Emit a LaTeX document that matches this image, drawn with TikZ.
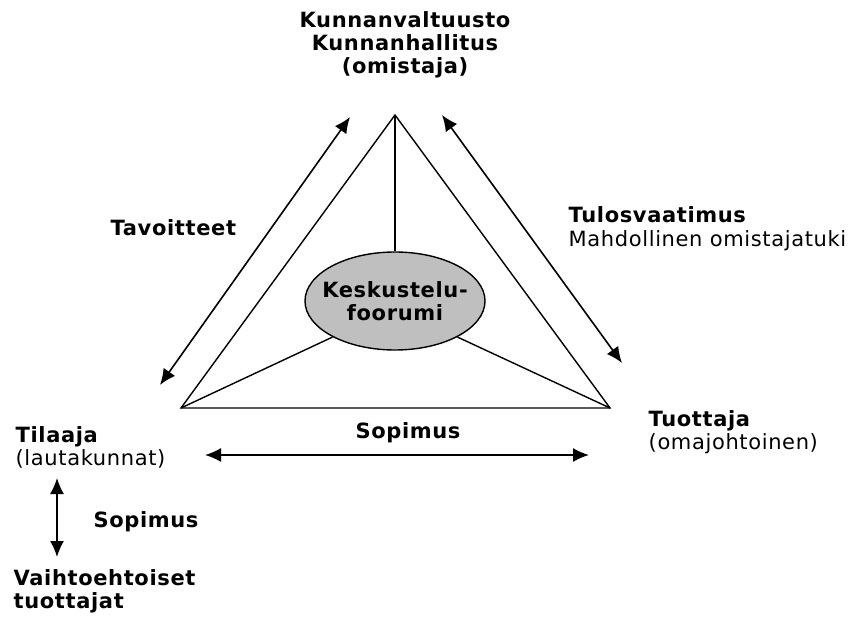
\documentclass[tikz,border=0pt]{standalone}
\usepackage{fontspec}
\setmainfont{DejaVu Sans}[LetterSpace=3]
\usepackage{tikz}
\usetikzlibrary{shapes,arrows.meta}

\begin{document}
\begin{tikzpicture}[x=1pt,y=-1pt,line width=1.4pt,
  >={Latex[length=16pt,width=14pt]},
  lbl/.style={font=\fontsize{21}{23}\selectfont,inner sep=0pt},
  blbl/.style={font=\fontsize{21}{23}\selectfont\bfseries,inner sep=0pt}]
\useasboundingbox (0,0) rectangle (854,617);
% corners of the triangle
\coordinate (T) at (395,115);
\coordinate (L) at (181,408);
\coordinate (R) at (610,408);
\node[draw, shape=ellipse, fill=black!25, minimum width=180pt, minimum height=98pt,
  inner sep=0pt] (KF) at (395,301) {};
\node[blbl, align=center] (KFtxt) at (KF.center) {Keskustelu-\\foorumi};
\draw (T) -- (L) -- (R) -- cycle;
\draw (T) -- (KF.north);
\draw (L) -- (KF.-150);
\draw (R) -- (KF.-30);
% texts
\node[blbl, align=center] (OM) at (405,45) {Kunnanvaltuusto\\Kunnanhallitus\\(omistaja)};
\node[blbl, anchor=west] (TAV) at (110,228) {Tavoitteet};
\node[blbl, anchor=west] (TUL) at (568,215) {Tulosvaatimus};
\node[lbl, anchor=west] (MAH) at (568,241) {Mahdollinen omistajatuki};
\node[blbl, anchor=west] (TIL) at (15,437) {Tilaaja};
\node[lbl, anchor=west] (LAU) at (15,459) {(lautakunnat)};
\node[blbl, anchor=west] (TUO) at (648,421) {Tuottaja};
\node[lbl, anchor=west] (OMA) at (648,444) {(omajohtoinen)};
\node[blbl] (SOP) at (408,433) {Sopimus};
\node[blbl] (SOP2) at (146,522) {Sopimus};
\node[blbl, align=left, anchor=west] (VAI) at (13,591) {Vaihtoehtoiset\\tuottajat};
% arrows
\coordinate (a1) at (160,385); \coordinate (a2) at (350,117);
\coordinate (b1) at (442,115); \coordinate (b2) at (622,363);
\coordinate (c1) at (205,455); \coordinate (c2) at (589,455);
\coordinate (d1) at (57,478); \coordinate (d2) at (57,557);
\draw[<->, line width=1.6pt] (a1) -- (a2);
\draw[<->, line width=1.6pt] (b1) -- (b2);
\draw[<->, line width=1.6pt] (c1) -- (c2);
\draw[<->, line width=1.6pt] (d1) -- (d2);
\end{tikzpicture}
\end{document}
